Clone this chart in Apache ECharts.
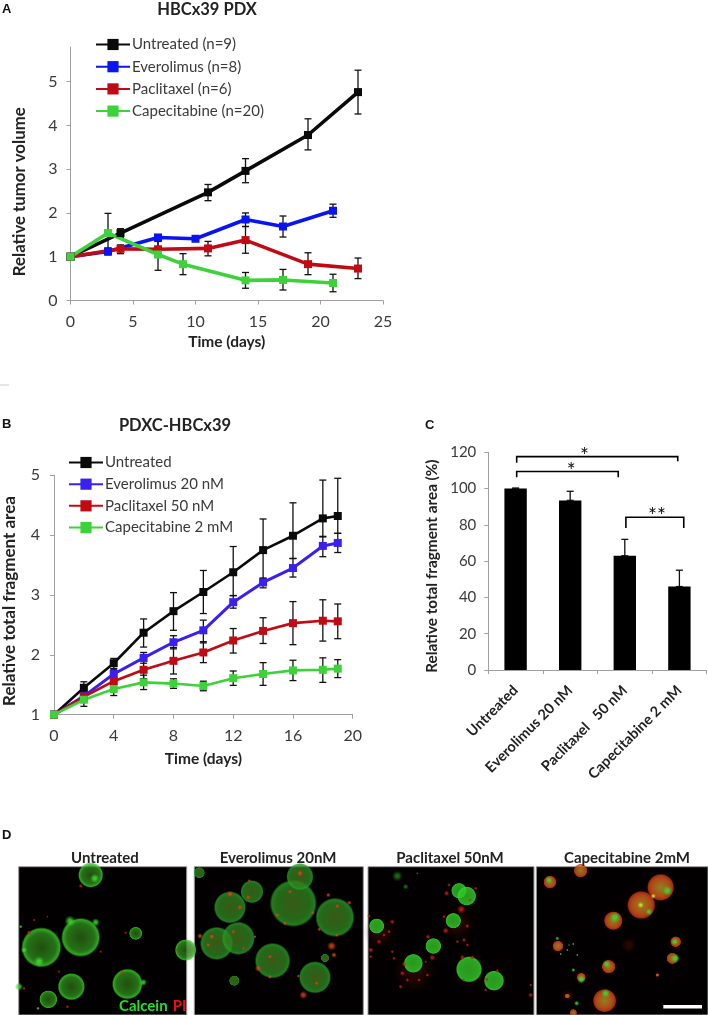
<!DOCTYPE html>
<html><head><meta charset="utf-8">
<style>html,body{margin:0;padding:0;background:#fff}#c{width:708px;height:1015px}</style>
<script src="https://cdn.jsdelivr.net/npm/echarts@6/dist/echarts.min.js"></script>
</head><body><div id="c"></div>
<script>
// ---------- Panel A ----------
const aUntreatedDays=[0,4,11,14,19,23];
const aUntreated=[1,1.54,2.47,2.96,3.78,4.76];
const aUntreatedLo=[1,1.44,2.28,2.69,3.44,4.26];
const aUntreatedHi=[1,1.64,2.65,3.24,4.15,5.26];
const aEveroDays=[0,3,7,10,14,17,21];
const aEvero=[1,1.12,1.44,1.41,1.85,1.69,2.05];
const aEveroLo=[1,1.04,1.38,1.35,1.69,1.45,1.9];
const aEveroHi=[1,1.2,1.5,1.47,2.0,1.93,2.2];
const aPacliDays=[0,4,7,11,14,19,23];
const aPacli=[1,1.18,1.17,1.19,1.38,0.83,0.73];
const aPacliLo=[1,1.07,1.05,1.02,1.08,0.59,0.5];
const aPacliHi=[1,1.27,1.35,1.35,1.69,1.09,0.97];
const aCapeDays=[0,3,7,9,14,17,21];
const aCape=[1,1.54,1.05,0.83,0.46,0.47,0.40];
const aCapeLo=[1,1.09,0.69,0.59,0.28,0.24,0.2];
const aCapeHi=[1,1.99,1.35,1.07,0.64,0.71,0.6];
const aNames=['Untreated (n=9)','Everolimus (n=8)','Paclitaxel (n=6)','Capecitabine (n=20)'];
// ---------- Panel B ----------
const bDays=[0,2,4,6,8,10,12,14,16,18,19];
const bUntreated=[1,1.45,1.86,2.37,2.73,3.05,3.38,3.75,3.99,4.28,4.32];
const bUntreatedLo=[1,1.35,1.77,2.13,2.41,2.69,2.99,3.28,3.61,3.97,4.03];
const bUntreatedHi=[1,1.55,1.94,2.6,3.04,3.41,3.81,4.27,4.54,4.92,4.95];
const bEvero=[1,1.31,1.68,1.95,2.21,2.41,2.88,3.21,3.45,3.82,3.87];
const bEveroLo=[1,1.25,1.6,1.86,2.1,2.2,2.78,3.12,3.3,3.64,3.71];
const bEveroHi=[1,1.37,1.76,2.04,2.32,2.58,2.99,3.28,3.61,3.98,4.03];
const bPacli=[1,1.3,1.56,1.75,1.9,2.04,2.24,2.4,2.53,2.57,2.56];
const bPacliLo=[1,1.22,1.45,1.6,1.68,1.87,2.03,2.19,2.17,2.23,2.27];
const bPacliHi=[1,1.38,1.67,1.9,2.12,2.22,2.44,2.62,2.89,2.92,2.85];
const bCape=[1,1.25,1.43,1.54,1.52,1.48,1.61,1.68,1.74,1.75,1.77];
const bCapeLo=[1,1.14,1.32,1.42,1.44,1.4,1.49,1.49,1.57,1.54,1.62];
const bCapeHi=[1,1.35,1.55,1.66,1.6,1.56,1.73,1.87,1.91,1.95,1.92];
const bNames=['Untreated','Everolimus 20 nM','Paclitaxel 50 nM','Capecitabine 2 mM'];
// ---------- Panel C ----------
const cCategories=['Untreated','Everolimus 20 nM','Paclitaxel   50 nM','Capecitabine 2 mM'];
const cPositions=[0,1,2,3];
const cValues=[100,93.5,63,46];
const cErrHi=[100.3,98.5,72,55];
// brackets: x1, x2, y top, y left end, y right end
const cBrackets=[[0.02,2.97,117.6,114.3,115],[0.02,1.88,109.4,106.3,106.3],[2.02,3.08,84.2,78.3,78.3]];
const cStarText=['*','*','**'];
const cStarPos=[[1.26,120],[1.02,111.6],[2.59,87]];
// ---------- Panel D (microscopy fields: x, y, diameter) ----------
const d1Green=[[230,45,72],[82,262,115],[200,232,112],[365,220,38],[172,380,78],[340,372,88],[103,418,52],[515,270,62]];
const d1Buds=[[168,183,24],[245,187,18],[75,305,24],[15,380,18],[388,367,16],[30,270,14],[242,55,20],[20,200,8],[72,445,8]];
const d1Red=[[45,218,8],[200,78,7],[325,340,7],[335,218,5],[30,385,6],[160,440,6],[60,180,5],[135,335,5],[260,275,5],[100,170,4],[490,270,5]];
const d2Green=[[28,38,32],[120,142,92],[186,95,66],[310,130,135],[330,50,78],[435,172,112],[80,250,95],[145,235,95],[248,302,102],[375,352,92],[133,362,30],[405,294,24]];
const d2Red=[[330,40,12],[300,95,8],[262,165,8],[285,190,8],[368,158,8],[175,112,9],[178,62,6],[120,102,12],[150,142,10],[442,138,8],[415,105,8],[478,128,8],[388,208,7],[440,225,7],[425,258,16],[432,285,10],[65,230,10],[30,228,10],[55,255,8],[130,215,8],[160,265,6],[205,325,12],[240,350,8],[240,290,8],[340,405,14],[380,370,8],[325,348,6],[195,230,6]];
const d3Haze=[[48,215,95],[280,190,95],[150,335,120],[310,110,70],[320,330,100],[395,365,70],[210,260,60]];
const d3Green=[[285,92,45],[308,108,55],[38,198,44],[268,182,45],[208,258,46],[148,310,55],[315,328,75],[390,362,58]];
const d3Dim=[[100,48,22],[125,80,12],[160,40,6]];
const d3Red=[[248,100,9],[292,148,14],[255,75,6],[335,85,6],[318,120,5],[15,168,6],[85,185,8],[75,215,6],[60,225,6],[45,245,8],[20,270,9],[240,170,6],[245,212,10],[310,198,7],[300,240,7],[280,245,6],[310,255,6],[192,230,8],[205,293,10],[85,275,6],[120,312,7],[115,340,8],[130,360,6],[110,380,7],[165,360,6],[190,345,6],[185,305,5],[295,292,8],[325,292,7],[400,332,6],[368,358,6],[500,405,8],[500,375,5],[20,290,6],[90,295,6],[298,360,5],[365,390,6]];
const d4Haze=[[380,82,95],[322,135,100],[238,182,70],[48,66,50],[72,258,50],[425,250,50],[224,320,55],[142,352,45],[212,422,85],[100,408,40],[285,255,45],[370,345,20]];
const d4Cluster=[[380,82,75],[322,135,78],[238,182,52],[48,66,36],[140,32,38],[72,258,30],[425,245,30],[415,295,32],[224,320,38],[142,352,25],[212,422,65],[118,458,20],[100,408,14],[370,345,10]];
const d4Green=[[400,92,20],[345,155,14],[243,172,22],[45,60,14],[422,245,14],[424,295,18],[218,312,16],[142,358,16],[215,400,18],[128,430,10],[70,235,8],[80,282,5],[100,270,5],[118,252,5],[105,255,4],[130,285,5],[118,330,8]];
const d4Yellow=[[358,108,12],[320,135,14]];
const d4ScaleBar=[[388,440],[504,440]];
const dTitles=['Untreated','Everolimus 20nM','Paclitaxel 50nM','Capecitabine 2mM'];
const dTitleCenters=[105,278,450,627];

// ---------- Styles ----------
const FONT='Lato';
const BLACK='#0a0a0a',BLUE='#0a14f0',BLUE2='#3a20f0',RED='#c00a14',GREEN='#3ed23a';
const axisLine={onZero:false,lineStyle:{color:'#a0a0a0',width:1}};
const axisTick={show:true,length:4,lineStyle:{color:'#a0a0a0',width:1}};
const labelX={color:'#3a3a3a',fontFamily:FONT,fontSize:16,margin:13};
const labelY={color:'#3a3a3a',fontFamily:FONT,fontSize:16,margin:13};
const nameStyle={color:'#222',fontFamily:FONT,fontWeight:'bold',fontSize:15.5};

function zip(xs,ys){return xs.map((x,i)=>[x,ys[i]]);}
function lineS(name,xs,ys,color,w,axis,ss){return {type:'line',name,data:zip(xs,ys),xAxisIndex:axis,yAxisIndex:axis,z:5,
  symbol:'rect',symbolSize:ss,showSymbol:true,animation:false,lineStyle:{color,width:w},itemStyle:{color},clip:false};}
function errS(xs,lo,hi,xi,yi,cap){return {type:'custom',xAxisIndex:xi,yAxisIndex:yi,z:3,animation:false,silent:true,clip:false,
  data:xs.map((x,i)=>[x,lo[i],hi[i]]),
  encode:{x:0,y:[1,2]},
  renderItem(p,api){const x=api.value(0),a=api.coord([x,api.value(1)]),b=api.coord([x,api.value(2)]);
    const st={stroke:'#111',lineWidth:1.3,fill:null};
    const ln=(x1,y1,x2,y2)=>({type:'line',shape:{x1,y1,x2,y2},style:st});
    return {type:'group',children:[ln(a[0],a[1],b[0],b[1]),ln(a[0]-cap,a[1],a[0]+cap,a[1]),ln(b[0]-cap,b[1],b[0]+cap,b[1])]};}};}
const sphere=(c,m,r,e)=>({type:'radial',x:.5,y:.5,r:.5,colorStops:[{offset:0,color:c},{offset:.7,color:m},{offset:.9,color:r},{offset:1,color:e}]});
const dot=(c,e)=>({type:'radial',x:.5,y:.5,r:.5,colorStops:[{offset:0,color:c},{offset:.3,color:c},{offset:1,color:e}]});
function blobs(data,idx,color,k){return {type:'scatter',data,xAxisIndex:4+idx,yAxisIndex:3+idx,symbol:'circle',
  symbolSize:v=>v[2]/3*k,animation:false,silent:true,clip:true,z:2,itemStyle:{color}};}

const dGrids=[[18.7,186.7,14,518],[194.3,363.3,13,520],[368,534,12,510],[536.3,708,7,522]];

const series=[
  errS(aUntreatedDays,aUntreatedLo,aUntreatedHi,0,0,3.5),errS(aEveroDays,aEveroLo,aEveroHi,0,0,3.5),
  errS(aPacliDays,aPacliLo,aPacliHi,0,0,3.5),errS(aCapeDays,aCapeLo,aCapeHi,0,0,3.5),
  lineS(aNames[0],aUntreatedDays,aUntreated,BLACK,3.6,0,8),lineS(aNames[1],aEveroDays,aEvero,BLUE,3.6,0,8),
  lineS(aNames[2],aPacliDays,aPacli,RED,3.6,0,8),lineS(aNames[3],aCapeDays,aCape,GREEN,3.6,0,8),
  errS(bDays,bUntreatedLo,bUntreatedHi,1,1,3.5),errS(bDays,bEveroLo,bEveroHi,1,1,3.5),
  errS(bDays,bPacliLo,bPacliHi,1,1,3.5),errS(bDays,bCapeLo,bCapeHi,1,1,3.5),
  lineS(bNames[0],bDays,bUntreated,BLACK,2.6,1,8),lineS(bNames[1],bDays,bEvero,BLUE2,3,1,8),
  lineS(bNames[2],bDays,bPacli,RED,2.6,1,8),lineS(bNames[3],bDays,bCape,GREEN,2.6,1,8),
  {type:'bar',data:cValues,xAxisIndex:2,yAxisIndex:2,barWidth:'41%',itemStyle:{color:'#000'},animation:false,z:2},
  errS(cPositions,cValues,cErrHi,3,2,3.5),
  {type:'custom',xAxisIndex:3,yAxisIndex:2,z:6,clip:false,animation:false,silent:true,data:cBrackets,
   encode:{x:0,y:2},
   renderItem(p,api){const v=cBrackets[p.dataIndex],l=api.coord([v[0],v[2]]),r=api.coord([v[1],v[2]]),
      lb=api.coord([v[0],v[3]]),rb=api.coord([v[1],v[4]]),s=api.coord(cStarPos[p.dataIndex]);
      return {type:'group',children:[
       {type:'polyline',shape:{points:[lb,l,r,rb]},style:{stroke:'#000',lineWidth:1.6,fill:null}},
       {type:'text',style:{text:cStarText[p.dataIndex],x:s[0],y:s[1]+4,align:'center',verticalAlign:'middle',fontFamily:FONT,fontSize:21,fill:'#111'}}]};}},
  // Panel D
  blobs(d1Green,0,sphere('#2a6212','#2c8e1c','#3bd028','rgba(40,150,30,0)'),1.06),
  blobs(d1Buds,0,dot('#3fdc2e','rgba(50,190,40,0)'),1.4),
  blobs(d1Red,0,dot('#c8281a','rgba(150,20,10,0)'),1.9),
  blobs(d2Green,1,sphere('#47701a','#2c8220','#2a9a26','rgba(40,130,30,0)'),1.06),
  blobs(d2Red,1,dot('#d04a18','rgba(170,40,15,0)'),1.8),
  blobs(d3Haze,2,dot('rgba(120,25,15,0.35)','rgba(90,15,10,0)'),1.1),
  blobs(d3Dim,2,dot('#1f7a1a','rgba(20,90,20,0)'),1.5),
  blobs(d3Green,2,sphere('#2fb826','#2ccc28','#35e02e','rgba(40,170,30,0)'),1.06),
  blobs(d3Red,2,dot('#c8201a','rgba(120,15,10,0)'),2),
  blobs(d4Haze,3,dot('rgba(130,25,10,0.35)','rgba(90,15,10,0)'),1.1),
  blobs(d4Cluster,3,sphere('#a8a028','#d8561a','#c03a18','rgba(120,25,10,0)'),1.1),
  blobs(d4Green,3,dot('#3adf30','rgba(50,190,40,0)'),1.6),
  blobs(d4Yellow,3,dot('#d8e830','rgba(180,180,30,0)'),1.4),
  {type:'line',data:d4ScaleBar,xAxisIndex:7,yAxisIndex:6,symbol:'none',silent:true,animation:false,z:4,lineStyle:{color:'#fff',width:3.5}}
];

const letter={fontFamily:'Liberation Sans',fontWeight:'bold',fontSize:13,color:'#111'};
const heading=s=>({fontFamily:FONT,fontWeight:'bold',fontSize:s,color:'#222'});
const titles=[
 {text:'A',left:2,top:3,padding:0,textStyle:letter},
 {text:'HBCx39 PDX',left:207,textAlign:'center',top:1,padding:0,textStyle:heading(16.5)},
 {text:'B',left:2,top:418,padding:0,textStyle:letter},
 {text:'PDXC-HBCx39',left:175,textAlign:'center',top:417,padding:0,textStyle:heading(16.5)},
 {text:'C',left:425,top:419,padding:0,textStyle:letter},
 {text:'D',left:2,top:829,padding:0,textStyle:letter},
 ...dTitles.map((t,i)=>({text:t,left:dTitleCenters[i],textAlign:'center',top:851,padding:0,textStyle:heading(15)})),
 {text:'{g|Calcein} {r|PI}',left:119,top:997,padding:0,textStyle:{rich:{g:{color:'#1fe21f',fontFamily:FONT,fontWeight:'bold',fontSize:15},r:{color:'#f01010',fontFamily:FONT,fontWeight:'bold',fontSize:15}}}}
];

const legendCommon={orient:'vertical',padding:0,itemWidth:34,itemHeight:14,selectedMode:false,
  textStyle:{fontFamily:FONT,fontSize:15,color:'#3a3a3a',padding:[0,0,0,-3]}};

const option={
 animation:false,backgroundColor:'#fff',title:titles,
 graphic:[{type:'line',shape:{x1:0,y1:385,x2:9,y2:385},style:{stroke:'#e6e6e6',lineWidth:2}}],
 legend:[{...legendCommon,data:aNames,left:95,top:37,itemGap:7.2},{...legendCommon,data:bNames,left:68,top:455,itemGap:6.67}],
 grid:[
  {left:70.5,top:47,width:312.5,height:253.5},
  {left:54,top:475.3,width:298.7,height:239.4},
  {left:488.3,top:452.3,width:218.4,height:217.7},
  ...dGrids.map(g=>({left:g[0],width:g[1]-g[0],top:866.7,height:148.3,show:true,backgroundColor:'#020000',borderColor:'#9a9a9a',borderWidth:1}))
 ],
 xAxis:[
  {type:'value',gridIndex:0,min:0,max:25,interval:5,splitLine:{show:false},axisLine,axisTick,axisLabel:labelX,name:'Time (days)',nameLocation:'middle',nameGap:33,nameTextStyle:nameStyle},
  {type:'value',gridIndex:1,min:0,max:20,interval:4,splitLine:{show:false},axisLine,axisTick,axisLabel:labelX,name:'Time (days)',nameLocation:'middle',nameGap:36,nameTextStyle:nameStyle},
  {type:'category',gridIndex:2,data:cCategories,boundaryGap:true,axisLine,axisTick:{...axisTick,alignWithLabel:false},
   axisLabel:{color:'#222',fontFamily:FONT,fontWeight:'bold',fontSize:14.5,rotate:45,margin:18,interval:0}},
  {type:'value',gridIndex:2,min:-0.5,max:3.5,show:false,splitLine:{show:false}},
  ...dGrids.map((g,i)=>({type:'value',gridIndex:3+i,min:g[2],max:g[3],show:false,splitLine:{show:false}}))
 ],
 yAxis:[
  {type:'value',gridIndex:0,min:0,max:5.79,interval:1,splitLine:{show:false},axisLine:{...axisLine,show:true},
   axisTick:{...axisTick,customValues:[0,1,2,3,4,5]},axisLabel:{...labelY,customValues:[0,1,2,3,4,5]},
   name:'Relative tumor volume',nameLocation:'middle',nameGap:42,nameTextStyle:{...nameStyle,fontSize:16.8,padding:[0,36,0,0]}},
  {type:'value',gridIndex:1,min:1,max:5,interval:1,splitLine:{show:false},axisLine:{...axisLine,show:true},axisTick,axisLabel:{...labelY,margin:14},
   name:'Relative total fragment area',nameLocation:'middle',nameGap:36,nameTextStyle:{...nameStyle,fontSize:17,padding:[0,12,0,0]}},
  {type:'value',gridIndex:2,min:0,max:120,interval:20,splitLine:{show:false},axisLine:{...axisLine,show:true},axisTick,axisLabel:{...labelY,fontSize:15,margin:12},
   name:'Relative total fragment area (%)',nameLocation:'middle',nameGap:49,nameTextStyle:{...nameStyle,fontSize:15.3,padding:[0,10,0,0]}},
  ...dGrids.map((g,i)=>({type:'value',gridIndex:3+i,min:20,max:465,inverse:true,show:false,splitLine:{show:false}}))
 ],
 series
};
echarts.init(document.getElementById('c'),null,{renderer:'canvas'}).setOption(option);
</script></body></html>
